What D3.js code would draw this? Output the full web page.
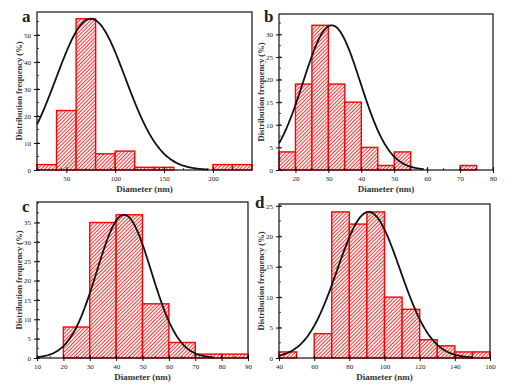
<!DOCTYPE html>
<html>
<head>
<meta charset="utf-8">
<script src="https://cdn.jsdelivr.net/npm/d3@7"></script>
<style>
  body { margin: 0; background: #fff; }
  svg { display: block; }
  .tick text { font-family: "Liberation Serif", serif; font-size: 7px; fill: #222; }
</style>
</head>
<body>
<div id="chart"></div>
<script>
// Histogram data (bin start, frequency %)
const binsA = [20, 40, 60, 80, 100, 120, 140, 160, 180, 200, 220];
const freqA = [2, 22, 56, 6, 7, 1, 1, 0, 0, 2, 2];
const binsB = [15, 20, 25, 30, 35, 40, 45, 50, 55, 60, 65, 70];
const freqB = [4, 19, 32, 19, 15, 5, 1, 4, 0, 0, 0, 1];
const binsC = [20, 30, 40, 50, 60, 70, 80];
const freqC = [8, 35, 37, 14, 4, 1, 1];
const binsD = [40, 50, 60, 70, 80, 90, 100, 110, 120, 130, 140, 150];
const freqD = [1, 0, 4, 24, 22, 24, 10, 8, 3, 2, 1, 1];

// Gaussian fit parameters (peak, center, sigma, x range)
const fitA = {amp: 56, mu: 75, sigma: 35.5, from: 20, to: 195};
const fitB = {amp: 32, mu: 31, sigma: 8.7, from: 15, to: 59};
const fitC = {amp: 37, mu: 43, sigma: 10.3, from: 10, to: 77};
const fitD = {amp: 24, mu: 91, sigma: 17.8, from: 40, to: 150};

const xTicksA = [50, 100, 150, 200];
const xTicksB = [20, 30, 40, 50, 60, 70, 80];
const xTicksC = [10, 20, 30, 40, 50, 60, 70, 80, 90];
const xTicksD = [40, 60, 80, 100, 120, 140, 160];

const W = 516, H = 389;
const svg = d3.select("#chart").append("svg")
  .attr("width", W).attr("height", H);

// red hatch fill
const defs = svg.append("defs");
const pat = defs.append("pattern")
  .attr("id", "hatch")
  .attr("patternUnits", "userSpaceOnUse")
  .attr("width", 2.6).attr("height", 2.6)
  .attr("patternTransform", "rotate(45)");
pat.append("rect").attr("width", 2.6).attr("height", 2.6).attr("fill", "#fdeaea");
pat.append("line").attr("x1", 0).attr("y1", 0).attr("x2", 0).attr("y2", 2.6)
  .attr("stroke", "#f21a1a").attr("stroke-width", 1.5);

function drawPanel(p) {
  const g = svg.append("g");
  const x = d3.scaleLinear().domain(p.xDomain).range([p.left, p.right]);
  const y = d3.scaleLinear().domain(p.yDomain).range([p.bottom, p.top]);

  const bars = p.bins.map((b, i) => ({x0: b, x1: b + p.binW, v: p.freq[i]}));
  g.selectAll("rect.bar").data(bars).enter().append("rect")
    .attr("class", "bar")
    .attr("x", d => x(d.x0))
    .attr("y", d => y(d.v))
    .attr("width", d => x(d.x1) - x(d.x0))
    .attr("height", d => y(0) - y(d.v))
    .attr("fill", "url(#hatch)")
    .attr("stroke", "#ff0000")
    .attr("stroke-width", 1.4);

  // fitted normal curve
  const f = p.fit;
  const pts = d3.range(f.from, f.to + 0.001, (f.to - f.from) / 200)
    .map(v => [v, f.amp * Math.exp(-((v - f.mu) ** 2) / (2 * f.sigma * f.sigma))]);
  g.append("path").datum(pts)
    .attr("fill", "none").attr("stroke", "#111").attr("stroke-width", 1.8)
    .attr("d", d3.line().x(d => x(d[0])).y(d => y(d[1])).curve(d3.curveBasis));

  // frame
  g.append("rect")
    .attr("x", p.left).attr("y", p.top)
    .attr("width", p.right - p.left).attr("height", p.bottom - p.top)
    .attr("fill", "none").attr("stroke", "#111").attr("stroke-width", 1.2);

  // minor ticks
  const xMinor = d3.range(p.xDomain[0], p.xDomain[1] + 0.001, p.xMinor)
  g.selectAll("line.xm").data(xMinor).enter().append("line")
    .attr("x1", d => x(d)).attr("x2", d => x(d))
    .attr("y1", p.bottom).attr("y2", p.bottom - 2)
    .attr("stroke", "#111").attr("stroke-width", 0.8);
  const yMinor = d3.range(0, p.yDomain[1], p.yMinor);
  g.selectAll("line.ym").data(yMinor).enter().append("line")
    .attr("x1", p.left).attr("x2", p.left + 2)
    .attr("y1", d => y(d)).attr("y2", d => y(d))
    .attr("stroke", "#111").attr("stroke-width", 0.8);

  const xAxis = g.append("g").attr("transform", `translate(0,${p.bottom})`)
    .call(d3.axisBottom(x).tickValues(p.xTicks).tickSize(3).tickPadding(3));
  const yAxis = g.append("g").attr("transform", `translate(${p.left},0)`)
    .call(d3.axisLeft(y).tickValues(p.yTicks).tickSize(3).tickPadding(3));
  [xAxis, yAxis].forEach(a => {
    a.select(".domain").remove();
    a.selectAll(".tick line").attr("stroke", "#111").attr("stroke-width", 1);
  });
  // inner half of major ticks
  xAxis.selectAll(".tick line").attr("y1", -3);
  yAxis.selectAll(".tick line").attr("x1", 3);

  g.append("text")
    .attr("x", (p.left + p.right) / 2).attr("y", p.bottom + 22)
    .attr("text-anchor", "middle")
    .attr("font-family", "Liberation Serif, serif").attr("font-weight", "bold")
    .attr("font-size", 9).attr("fill", "#333")
    .text("Diameter (nm)");
  g.append("text")
    .attr("transform", `translate(${p.left - 15},${(p.top + p.bottom) / 2}) rotate(-90)`)
    .attr("text-anchor", "middle")
    .attr("font-family", "Liberation Serif, serif").attr("font-weight", "bold")
    .attr("font-size", 8.5).attr("fill", "#333")
    .text("Distribution frequency (%)");
  g.append("text")
    .attr("x", p.left - p.labelDx).attr("y", p.top + p.labelDy)
    .attr("font-family", "Liberation Serif, serif").attr("font-weight", "bold")
    .attr("font-size", 17).attr("fill", "#222")
    .text(p.label);
}

drawPanel({label: "a", bins: binsA, freq: freqA, binW: 20, fit: fitA,
  xDomain: [20, 240], yDomain: [0, 58.5], xTicks: xTicksA, yTicks: [0, 10, 20, 30, 40, 50],
  xMinor: 25, yMinor: 5, left: 37, right: 252, top: 12, bottom: 170, labelDx: 15, labelDy: 10});
drawPanel({label: "b", bins: binsB, freq: freqB, binW: 5, fit: fitB,
  xDomain: [15, 80], yDomain: [0, 34.5], xTicks: xTicksB, yTicks: [0, 5, 10, 15, 20, 25, 30],
  xMinor: 5, yMinor: 2.5, left: 279, right: 493, top: 14, bottom: 170, labelDx: 15, labelDy: 8});
drawPanel({label: "c", bins: binsC, freq: freqC, binW: 10, fit: fitC,
  xDomain: [10, 90], yDomain: [0, 40.3], xTicks: xTicksC, yTicks: [0, 5, 10, 15, 20, 25, 30, 35],
  xMinor: 5, yMinor: 2.5, left: 37, right: 248, top: 202, bottom: 358, labelDx: 15, labelDy: 10});
drawPanel({label: "d", bins: binsD, freq: freqD, binW: 10, fit: fitD,
  xDomain: [40, 160], yDomain: [0, 25.3], xTicks: xTicksD, yTicks: [0, 5, 10, 15, 20, 25],
  xMinor: 10, yMinor: 2.5, left: 279, right: 490, top: 204, bottom: 358, labelDx: 24, labelDy: 4});
</script>
</body>
</html>
